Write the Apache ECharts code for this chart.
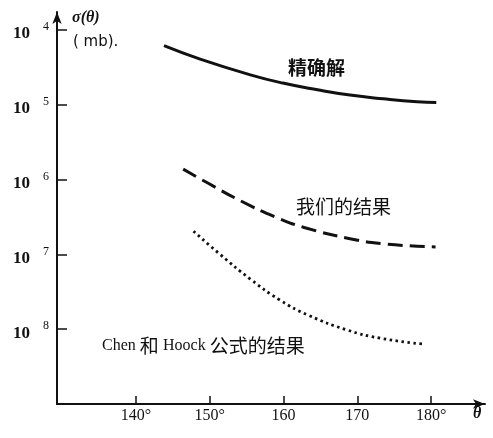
<!DOCTYPE html>
<html>
<head>
<meta charset="utf-8">
<script src="https://cdn.jsdelivr.net/npm/echarts@6/dist/echarts.min.js"></script>
<style>
  html, body { margin: 0; padding: 0; background: #fff; }
  #chart { width: 493px; height: 438px; }
</style>
</head>
<body>
<div id="chart"></div>
<script>
// theta in degrees, sigma given as log10 of the value in mb
const exactTheta = [143.8, 148.7, 155.5, 159.9, 164.6, 169.0, 173.5, 178.1, 180.7]
const exactLogSigma = [-4.21, -4.39, -4.60, -4.71, -4.80, -4.87, -4.92, -4.96, -4.97]

const oursTheta = [146.4, 149.8, 154.3, 158.9, 162.8, 169.0, 173.6, 180.6]
const oursLogSigma = [-5.86, -6.05, -6.29, -6.50, -6.64, -6.79, -6.86, -6.90]

const chenTheta = [147.8, 151.4, 155.5, 159.5, 163.3, 168.6, 173.1, 179.0]
const chenLogSigma = [-6.69, -7.00, -7.33, -7.61, -7.81, -8.01, -8.12, -8.20]

const xTicks = [140, 150, 160, 170, 180]
const xTickLabels = ['140°', '150°', '160', '170', '180°']
const yTicks = [-8, -7, -6, -5, -4]

const zip = (xs, ys) => xs.map((x, i) => [x, ys[i]])

const chart = echarts.init(document.getElementById('chart'))

const baseLine = {
  type: 'line',
  smooth: true,
  showSymbol: false,
  silent: true,
  color: '#111'
}

chart.setOption({
  animation: false,
  backgroundColor: '#fff',
  grid: { left: 57, right: 8, top: 12, bottom: 34 },
  xAxis: {
    type: 'value',
    min: 129.3,
    max: 187.3,
    splitLine: { show: false },
    axisLine: {
      symbol: ['none', 'arrow'],
      symbolSize: [7, 12],
      lineStyle: { color: '#111', width: 2 }
    },
    axisTick: {
      inside: true,
      length: 8,
      customValues: xTicks,
      lineStyle: { color: '#111', width: 1.5 }
    },
    axisLabel: {
      customValues: xTicks,
      margin: 4,
      color: '#111',
      fontFamily: 'Liberation Serif',
      fontSize: 16,
      formatter: v => xTickLabels[xTicks.indexOf(v)]
    }
  },
  yAxis: {
    type: 'value',
    min: -9,
    max: -3.76,
    splitLine: { show: false },
    axisLine: {
      symbol: ['none', 'arrow'],
      symbolSize: [7, 12],
      lineStyle: { color: '#111', width: 2 }
    },
    axisTick: {
      inside: true,
      length: 10,
      customValues: yTicks,
      lineStyle: { color: '#111', width: 1.5 }
    },
    axisLabel: {
      customValues: yTicks,
      margin: 8,
      formatter: v => '{b|10}{s|' + Math.abs(v) + '}',
      rich: {
        b: {
          fontFamily: 'Liberation Serif',
          fontSize: 17,
          fontWeight: 'bold',
          color: '#111',
          padding: [8, 0, 0, 0]
        },
        s: {
          fontFamily: 'Liberation Serif',
          fontSize: 12,
          color: '#111',
          padding: [0, 0, 6, 13]
        }
      }
    }
  },
  graphic: [
    {
      type: 'text',
      left: 72,
      top: 10,
      style: {
        text: 'σ(θ)',
        font: 'italic bold 16px "Liberation Serif"',
        fill: '#111'
      }
    },
    {
      type: 'text',
      left: 73,
      top: 35,
      style: {
        text: '( mb).',
        font: '15px "DejaVu Sans"',
        fill: '#111'
      }
    },
    {
      type: 'text',
      left: 473,
      top: 406,
      style: {
        text: 'θ',
        font: 'italic bold 16px "Liberation Serif"',
        fill: '#111'
      }
    },
    {
      type: 'text',
      left: 288,
      top: 58,
      style: {
        text: '精确解',
        font: 'bold 19px "Noto Sans CJK SC"',
        fill: '#111'
      }
    },
    {
      type: 'text',
      left: 296,
      top: 197,
      style: {
        text: '我们的结果',
        font: '19px "Noto Sans CJK SC"',
        fill: '#111'
      }
    },
    {
      type: 'text',
      left: 102,
      top: 336,
      style: {
        text: '{l|Chen }{c|和 }{l|Hoock }{c|公式的结果}',
        rich: {
          l: { font: '16px "Liberation Serif"', fill: '#111' },
          c: { font: '19px "Noto Sans CJK SC"', fill: '#111' }
        }
      }
    }
  ],
  series: [
    Object.assign({}, baseLine, {
      name: '精确解',
      data: zip(exactTheta, exactLogSigma),
      lineStyle: { color: '#111', width: 3 }
    }),
    Object.assign({}, baseLine, {
      name: '我们的结果',
      data: zip(oursTheta, oursLogSigma),
      lineStyle: { color: '#111', width: 3, type: [15, 7] }
    }),
    Object.assign({}, baseLine, {
      name: 'Chen 和 Hoock 公式的结果',
      data: zip(chenTheta, chenLogSigma),
      lineStyle: { color: '#111', width: 2.8, type: [2.5, 3.5] }
    })
  ]
})
</script>
</body>
</html>
